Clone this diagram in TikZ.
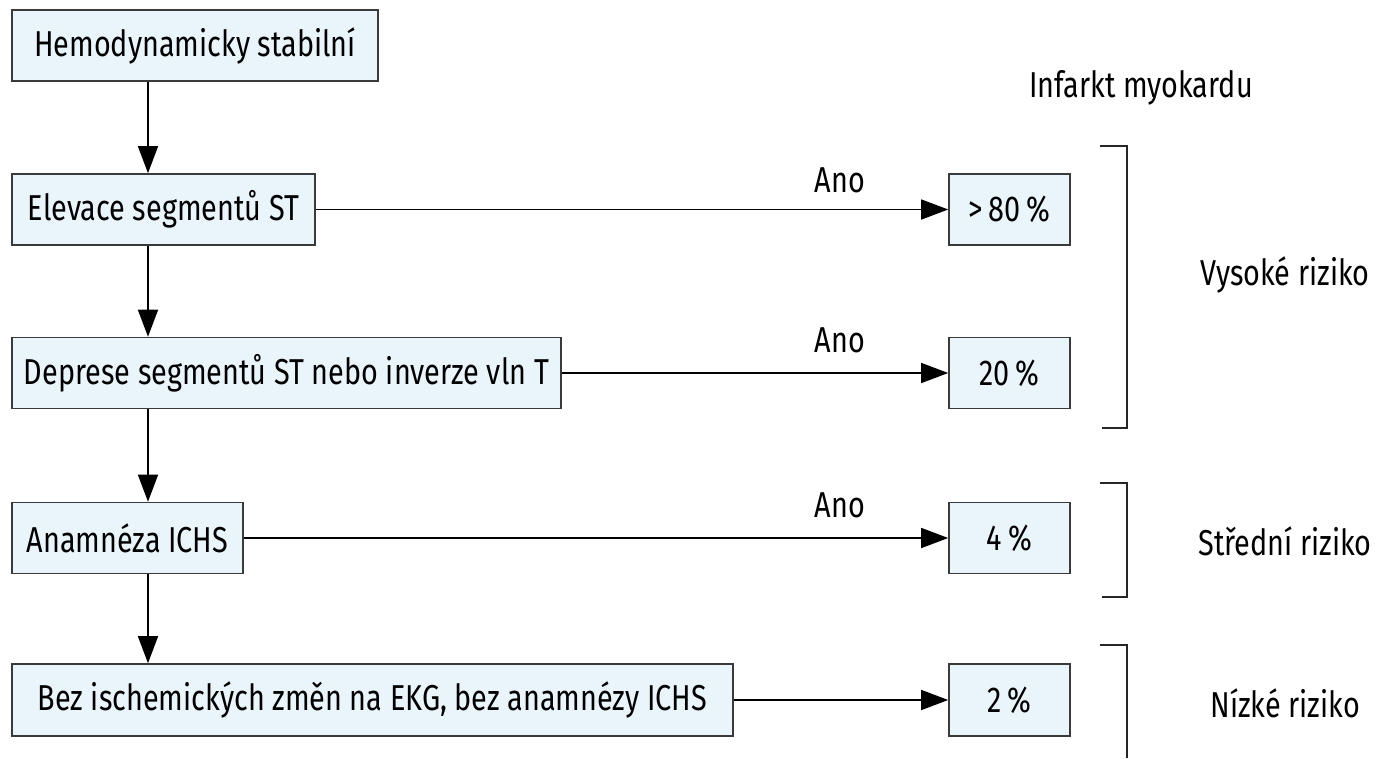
\documentclass[tikz,border=0pt]{standalone}
\usepackage{fontspec}
\setmainfont{Fira Sans}[FakeStretch=0.8]
\usetikzlibrary{arrows.meta}
\definecolor{boxfill}{HTML}{EAF4FB}
\definecolor{boxline}{HTML}{3A3A3A}
\tikzset{
  stepbox/.style={draw=boxline, fill=boxfill, line width=1.6pt, inner sep=0pt,
    font=\fontsize{36}{40}\selectfont, text=black},
  conn/.style={line width=1.5pt, -{Triangle[length=27pt,width=20pt]}},
  bracketline/.style={line width=1.5pt, draw=black!85},
  lbl/.style={font=\fontsize{36}{40}\selectfont, inner sep=0pt}
}
\begin{document}
\begin{tikzpicture}[x=1pt,y=-1pt]
\useasboundingbox (0,0) rectangle (1382,758);
% left column of questions
\node[stepbox, minimum width=366pt, minimum height=71pt] (q0) at (195,45.5) {Hemodynamicky stabilní};
\node[stepbox, minimum width=303pt, minimum height=71pt] (q1) at (163.5,209.5) {Elevace segmentů ST};
\node[stepbox, minimum width=549pt, minimum height=71pt] (q2) at (286.5,373) {Deprese segmentů ST nebo inverze vln T};
\node[stepbox, minimum width=231pt, minimum height=71pt] (q3) at (127.5,538) {Anamnéza ICHS};
\node[stepbox, minimum width=721pt, minimum height=72pt] (q4) at (372.5,700) {Bez ischemických změn na EKG, bez anamnézy ICHS};
% right column of probabilities
\node[stepbox, minimum width=121pt, minimum height=71pt] (p1) at (1009.5,209.5) {>\,80\,\%};
\node[stepbox, minimum width=121pt, minimum height=71pt] (p2) at (1009.5,373) {20\,\%};
\node[stepbox, minimum width=121pt, minimum height=71pt] (p3) at (1009.5,538) {4\,\%};
\node[stepbox, minimum width=121pt, minimum height=72pt] (p4) at (1009.5,700) {2\,\%};
% vertical flow
\coordinate (vx) at (148,0);
\draw[conn] (q0.south -| vx) -- (q1.north -| vx);
\draw[conn] (q1.south -| vx) -- (q2.north -| vx);
\draw[conn] (q2.south -| vx) -- (q3.north -| vx);
\draw[conn] (q3.south -| vx) -- (q4.north -| vx);
% horizontal flow
\draw[conn] (q1.east) -- (p1.west);
\draw[conn] (q2.east) -- (p2.west);
\draw[conn] (q3.east) -- (p3.west);
\draw[conn] (q4.east) -- (p4.west);
\node[lbl] (a1) at (840,180) {Ano};
\node[lbl] (a2) at (840,340) {Ano};
\node[lbl] (a3) at (840,505) {Ano};
% header
\node[lbl] (hdr) at (1141,88) {Infarkt myokardu};
% risk brackets
\draw[bracketline] (1100,146) -- (1127,146) -- (1127,428) -- (1102,428);
\draw[bracketline] (1100,483) -- (1127,483) -- (1127,597) -- (1102,597);
\draw[bracketline] (1100,645) -- (1127,645) -- (1127,758);
\node[lbl] (r1) at (1285,275) {Vysoké riziko};
\node[lbl] (r2) at (1285,541) {Střední riziko};
\node[lbl] (r3) at (1285,703) {Nízké riziko};
\end{tikzpicture}
\end{document}
